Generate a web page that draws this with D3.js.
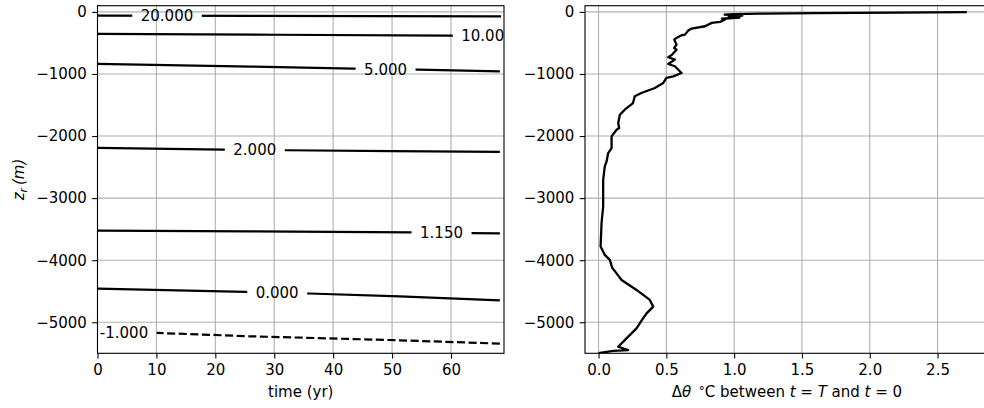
<!DOCTYPE html>
<html>
<head>
<meta charset="utf-8">
<script src="https://cdn.jsdelivr.net/npm/d3@7"></script>
<style>
  html, body { margin: 0; padding: 0; background: #fff; }
  svg { display: block; font-family: "DejaVu Sans", sans-serif; }
</style>
</head>
<body>
<svg id="chart" width="984" height="408"></svg>
<script>
// ---------------- data ----------------
const contourLabels = ["20.000", "10.000", "5.000", "2.000", "1.150", "0.000", "-1.000"];
const contourTime = [
  [0, 68.5],
  [0, 30, 59.6, 69],
  [0, 26, 43.5, 54.4, 68.3],
  [0, 21.3, 32.1, 50, 68.3],
  [0, 26, 53.3, 63.4, 68.3],
  [0, 25.1, 35.9, 51.3, 68.3],
  [0, 10.1, 25.9, 51.3, 68.3]
];
const contourDepth = [
  [-60, -71],
  [-354, -368, -382, -386],
  [-838, -880, -915, -929, -957],
  [-2191, -2218, -2229, -2243, -2255],
  [-3524, -3535, -3551, -3563, -3567],
  [-4458, -4510, -4537, -4582, -4646],
  [-5160, -5172, -5226, -5291, -5344]
];
const contourLabelTime = [11.8, 66.2, 48.9, 26.7, 58.4, 30.5, 4.5];
const contourDashed = [false, false, false, false, false, false, true];

const profileDelta = [2.716, 2.2, 1.6, 1.19, 1.0, 0.93, 1.06, 0.96, 1.04, 0.91, 0.93, 0.896, 0.835, 0.785, 0.686,
  0.662, 0.637, 0.612, 0.575, 0.558, 0.575, 0.558, 0.575, 0.543, 0.514, 0.563, 0.514, 0.563, 0.612, 0.551,
  0.501, 0.477, 0.415, 0.316, 0.267, 0.254, 0.193, 0.157, 0.145, 0.152, 0.133, 0.096, 0.096, 0.071, 0.059,
  0.046, 0.034, 0.034, 0.022, 0.015, 0.046, 0.083, 0.10, 0.170, 0.280, 0.378, 0.403, 0.354, 0.329, 0.280,
  0.206, 0.145, 0.218, 0.108, 0.0];
const profileDepth = [-3, -10, -20, -28, -35, -45, -60, -75, -90, -110, -125, -161, -177, -231, -269,
  -301, -366, -376, -419, -446, -527, -581, -608, -688, -731, -769, -839, -876, -984, -1038,
  -1064, -1145, -1226, -1306, -1360, -1468, -1575, -1658, -1790, -1871, -1898, -2006, -2194, -2274, -2410,
  -2490, -2705, -3135, -3405, -3781, -3915, -3995, -4120, -4318, -4479, -4640, -4748, -4856, -4935, -5098,
  -5260, -5394, -5448, -5460, -5497];

const timeTicks = [0, 10, 20, 30, 40, 50, 60];
const depthTicks = [0, -1000, -2000, -3000, -4000, -5000];
const deltaTicks = [0.0, 0.5, 1.0, 1.5, 2.0, 2.5];

// ---------------- layout ----------------
const W = 984, H = 408;
const FS = 15;
const axTop = 5.7, axBot = 353.3;
const LA = { x0: 97.5, x1: 504 };
const RA = { x0: 585, x1: 985 };
const tickLen = 5.3, tickPad = 5.3;
const gridColor = "#b0b0b0";

const svg = d3.select("#chart");
const defs = svg.append("defs");

const y = d3.scaleLinear().domain([-5500, 100]).range([axBot, axTop]);
const xL = d3.scaleLinear().domain([0, 69]).range([LA.x0, LA.x1]);
const xR = d3.scaleLinear().domain([-0.1, 2.85]).range([RA.x0, RA.x1]);

function clip(id, A) {
  defs.append("clipPath").attr("id", id).append("rect")
    .attr("x", A.x0).attr("y", axTop).attr("width", A.x1 - A.x0).attr("height", axBot - axTop);
}
clip("clipL", LA);
clip("clipR", RA);

function grid(g, xs, xTicks, A) {
  g.selectAll(".gx").data(xTicks).join("line")
    .attr("x1", d => xs(d)).attr("x2", d => xs(d))
    .attr("y1", axTop).attr("y2", axBot)
    .attr("stroke", gridColor).attr("stroke-width", 1.1);
  g.selectAll(".gy").data(depthTicks).join("line")
    .attr("x1", A.x0).attr("x2", A.x1)
    .attr("y1", d => y(d)).attr("y2", d => y(d))
    .attr("stroke", gridColor).attr("stroke-width", 1.1);
}

function axes(xs, xTicks, xfmt, A) {
  const gx = svg.append("g").attr("transform", `translate(0,${axBot})`)
    .call(d3.axisBottom(xs).tickValues(xTicks).tickFormat(xfmt).tickSize(tickLen).tickPadding(tickPad).tickSizeOuter(0));
  const gy = svg.append("g").attr("transform", `translate(${A.x0},0)`)
    .call(d3.axisLeft(y).tickValues(depthTicks).tickFormat(d3.format("d")).tickSize(tickLen).tickPadding(tickPad).tickSizeOuter(0));
  [gx, gy].forEach(g => {
    g.attr("font-size", FS).attr("font-family", "DejaVu Sans");
    g.select(".domain").remove();
    g.selectAll(".tick line").attr("stroke", "#000").attr("stroke-width", 1.1);
    g.selectAll(".tick text").attr("fill", "#000");
  });
  gx.selectAll(".tick text").attr("dy", "0.71em");
  svg.append("rect").attr("x", A.x0).attr("y", axTop)
    .attr("width", A.x1 - A.x0).attr("height", axBot - axTop)
    .attr("fill", "none").attr("stroke", "#000").attr("stroke-width", 1.1);
}

// ---------------- left panel ----------------
const gL = svg.append("g");
grid(gL, xL, timeTicks, LA);

const lineL = d3.line().x(d => xL(d[0])).y(d => y(d[1]));
const labelLayer = svg.append("g").attr("clip-path", "url(#clipL)");
const contourLayer = svg.append("g").attr("clip-path", "url(#clipL)");

contourLabels.forEach((lab, i) => {
  const interp = d3.scaleLinear().domain(contourTime[i]).range(contourDepth[i]);
  const lx = xL(contourLabelTime[i]);
  const ly = y(interp(contourLabelTime[i]));
  const t = labelLayer.append("text")
    .attr("x", lx).attr("y", ly).attr("dy", "0.36em")
    .attr("text-anchor", "middle").attr("font-size", FS).attr("fill", "#000")
    .text(lab);
  const bb = t.node().getBBox();
  const pad = 8.5;
  const m = defs.append("mask").attr("id", "mask" + i)
    .attr("maskUnits", "userSpaceOnUse").attr("x", 0).attr("y", 0).attr("width", W).attr("height", H);
  m.append("rect").attr("x", 0).attr("y", 0).attr("width", W).attr("height", H).attr("fill", "#fff");
  m.append("rect").attr("x", bb.x - pad).attr("y", bb.y - 4).attr("width", bb.width + 2 * pad)
    .attr("height", bb.height + 8).attr("fill", "#000");
  const pts = contourTime[i].map((tt, k) => [tt, contourDepth[i][k]]);
  contourLayer.append("g").attr("mask", `url(#mask${i})`)
    .append("path").attr("d", lineL(pts))
    .attr("fill", "none").attr("stroke", "#000").attr("stroke-width", 2.2)
    .attr("stroke-dasharray", contourDashed[i] ? "8.1,3.5" : null);
});

axes(xL, timeTicks, d3.format("d"), LA);

svg.append("text").attr("x", (LA.x0 + LA.x1) / 2).attr("y", 396.5)
  .attr("text-anchor", "middle").attr("font-size", FS).text("time (yr)");

const yl = svg.append("text")
  .attr("transform", `translate(23.5,${(axTop + axBot) / 2}) rotate(-90)`)
  .attr("text-anchor", "middle").attr("font-size", FS).attr("font-style", "italic");
yl.append("tspan").text("z");
yl.append("tspan").attr("font-size", FS * 0.7).attr("dy", 3).text("r");
yl.append("tspan").attr("dy", -3).text("\u2009(m)");

// ---------------- right panel ----------------
const gR = svg.append("g");
grid(gR, xR, deltaTicks, RA);

const lineR = d3.line().x(d => xR(d[0])).y(d => y(d[1]));
svg.append("g").attr("clip-path", "url(#clipR)")
  .append("path")
  .attr("d", lineR(profileDelta.map((v, k) => [v, profileDepth[k]])))
  .attr("fill", "none").attr("stroke", "#000").attr("stroke-width", 2.3)
  .attr("stroke-linejoin", "round");

axes(xR, deltaTicks, d3.format(".1f"), RA);

const xl = svg.append("text").attr("x", 787).attr("y", 396.5)
  .attr("text-anchor", "middle").attr("font-size", FS);
xl.append("tspan").text("\u0394");
xl.append("tspan").attr("font-style", "italic").text("\u03B8");
xl.append("tspan").text("\u2002");
xl.append("tspan").attr("font-size", FS * 0.8).attr("dy", -2).text("\u00B0");
xl.append("tspan").attr("dy", 2).text("C between ");
xl.append("tspan").attr("font-style", "italic").text("t");
xl.append("tspan").text(" = ");
xl.append("tspan").attr("font-style", "italic").text("T");
xl.append("tspan").text(" and ");
xl.append("tspan").attr("font-style", "italic").text("t");
xl.append("tspan").text(" = 0");
</script>
</body>
</html>
